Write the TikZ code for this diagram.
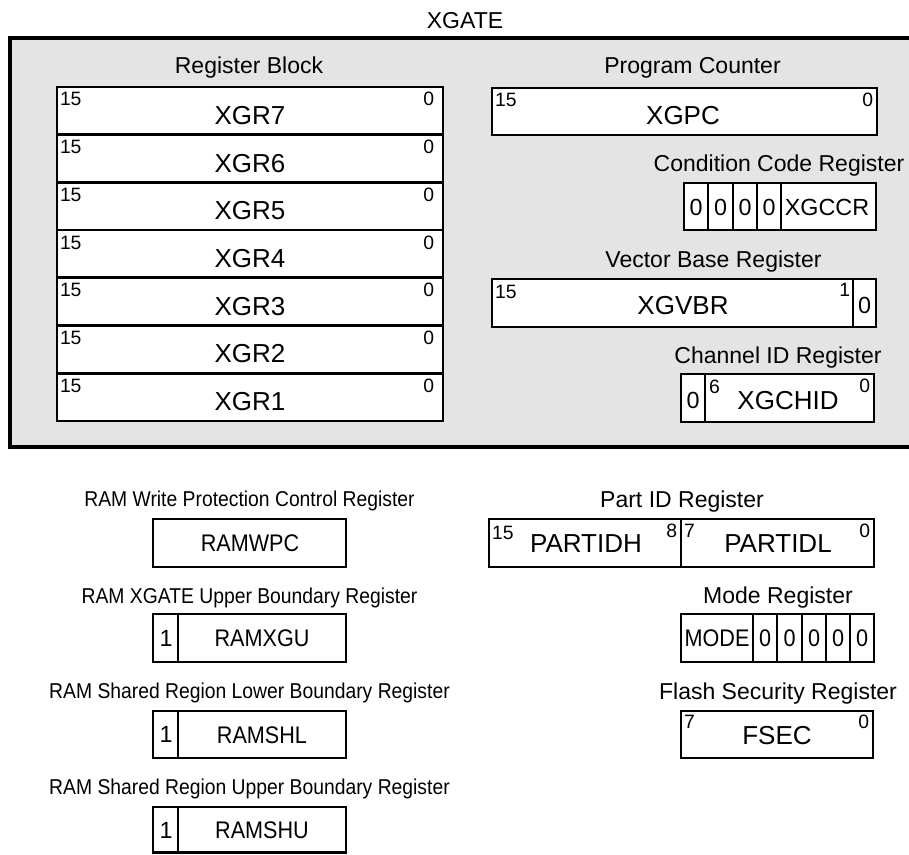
\documentclass[tikz,border=0pt]{standalone}
\usepackage{fontspec}
\setmainfont{Liberation Sans}
\newfontfamily\narrowfont[FakeStretch=0.9]{Liberation Sans}
\definecolor{panel}{RGB}{228,228,228}
\tikzset{
  txt/.style={inner sep=0pt, outer sep=0pt, text depth=0pt},
  lbl/.style={txt, font=\fontsize{17.25}{20}\selectfont, text height=12.35pt},
  nm/.style={txt, font=\fontsize{19.5}{22}\selectfont, text height=13.96pt},
  bit/.style={txt, font=\fontsize{14.5}{17}\selectfont, text height=10.38pt},
  cell/.style={txt, font=\fontsize{17.5}{20}\selectfont, text height=12.53pt},
  nlbl/.style={txt, font=\narrowfont\fontsize{16.1}{19}\selectfont, text height=11.53pt},
  nnm/.style={txt, font=\narrowfont\fontsize{18}{21}\selectfont, text height=12.89pt},
  regline/.style={draw=black, line width=2pt, fill=white},
  divline/.style={draw=black, line width=2pt},
}
\begin{document}
\begin{tikzpicture}[x=0.75pt,y=-0.75pt]
\useasboundingbox (0,0) rectangle (909,854);
% title and outer panel
\node[lbl] (title) at (465,20) {XGATE};
\draw[line width=2.5pt, fill=panel] (10,38) rectangle (930,447);

% Register block
\node[lbl] (rblabel) at (249,65) {Register Block};
\foreach \i/\t in {7/87,6/134.7,5/182.4,4/230.1,3/277.9,2/325.6,1/373.3}{
  \draw[regline] (57,\t) rectangle (443,\t+47.7);
  \node[nm] (xgr\i) at (250,\t+28) {XGR\i};
  \node[bit, anchor=west] (xgr\i hi) at (60,\t+12) {15};
  \node[bit, anchor=east] (xgr\i lo) at (434,\t+12) {0};
}

% Program counter
\node[lbl] (pclabel) at (692.5,65) {Program Counter};
\draw[regline] (492,88) rectangle (877,135);
\node[bit, anchor=west] (pchi) at (495,100) {15};
\node[bit, anchor=east] (pclo) at (873,100) {0};
\node[nm] (xgpc) at (683,115) {XGPC};

% Condition code register
\node[lbl] (ccrlabel) at (779,163) {Condition Code Register};
\draw[regline] (684,183) rectangle (876,230);
\foreach \xx in {708,733,757,781}{\draw[divline] (\xx,183) -- (\xx,230);}
\node[cell] (ccr3) at (696,207) {0};
\node[cell] (ccr2) at (720.5,207) {0};
\node[cell] (ccr1) at (745,207) {0};
\node[cell] (ccr0) at (769,207) {0};
\node[txt, font=\fontsize{17.5}{20}\selectfont, text height=12.53pt] (xgccr) at (827,207) {XGCCR};

% Vector base register
\node[lbl] (vbrlabel) at (713.5,259) {Vector Base Register};
\draw[regline] (492,279) rectangle (876,327);
\draw[divline] (853,279) -- (853,327);
\node[bit, anchor=west] (vbrhi) at (495,292) {15};
\node[bit, anchor=east] (vbrlo) at (850,290) {1};
\node[cell] (vbrzero) at (864.5,305) {0};
\node[nm] (xgvbr) at (683,305) {XGVBR};

% Channel ID register
\node[lbl] (chidlabel) at (778,355) {Channel ID Register};
\draw[regline] (681,374) rectangle (874,422);
\draw[divline] (705,374) -- (705,422);
\node[cell] (chidzero) at (693,400) {0};
\node[bit, anchor=west] (chidhi) at (709,387) {6};
\node[nm] (xgchid) at (788,400) {XGCHID};
\node[bit, anchor=east] (chidlo) at (870,386) {0};

% RAM registers (left)
\node[nlbl] (wpclabel) at (249.5,499) {RAM Write Protection Control Register};
\draw[regline] (153,519) rectangle (346,567);
\node[nnm] (ramwpc) at (250,543) {RAMWPC};

\node[nlbl] (xgulabel) at (249.5,596) {RAM XGATE Upper Boundary Register};
\draw[regline] (153,614) rectangle (346,662);
\draw[divline] (178,614) -- (178,662);
\node[cell] (xguone) at (166,638) {1};
\node[nnm] (ramxgu) at (262,638) {RAMXGU};

\node[nlbl] (shllabel) at (249.5,691) {RAM Shared Region Lower Boundary Register};
\draw[regline] (153,711) rectangle (346,758);
\draw[divline] (178,711) -- (178,758);
\node[cell] (shlone) at (166,734.5) {1};
\node[nnm] (ramshl) at (262,734.5) {RAMSHL};

\node[nlbl] (shulabel) at (249.5,787) {RAM Shared Region Upper Boundary Register};
\draw[regline] (153,807) rectangle (346,852.6);
\draw[divline] (178,807) -- (178,852.6);
\node[cell] (shuone) at (166,830) {1};
\node[nnm] (ramshu) at (262,830) {RAMSHU};

% Part ID register
\node[lbl] (partlabel) at (682,499) {Part ID Register};
\draw[regline] (489,519) rectangle (874,567);
\draw[divline] (681,519) -- (681,567);
\node[bit, anchor=west] (parthi) at (492,533) {15};
\node[nm] (partidh) at (586,543) {PARTIDH};
\node[bit, anchor=east] (parteight) at (677,531) {8};
\node[bit, anchor=west] (partseven) at (684,531) {7};
\node[nm] (partidl) at (778,543) {PARTIDL};
\node[bit, anchor=east] (partlo) at (870,531) {0};

% Mode register
\node[lbl] (modelabel) at (778,595) {Mode Register};
\draw[regline] (681,614) rectangle (874,662);
\foreach \xx in {753,777,802,826,850}{\draw[divline] (\xx,614) -- (\xx,662);}
\node[nnm] (mode) at (717,638) {MODE};
\node[nnm] (mode4) at (765,638) {0};
\node[nnm] (mode3) at (789.5,638) {0};
\node[nnm] (mode2) at (814,638) {0};
\node[nnm] (mode1) at (838,638) {0};
\node[nnm] (mode0) at (862,638) {0};

% Flash security register
\node[lbl] (fseclabel) at (778,691) {Flash Security Register};
\draw[regline] (681,711) rectangle (873,758);
\node[bit, anchor=west] (fsechi) at (684,722) {7};
\node[nm] (fsec) at (777,735) {FSEC};
\node[bit, anchor=east] (fseclo) at (869,722) {0};
\end{tikzpicture}
\end{document}
